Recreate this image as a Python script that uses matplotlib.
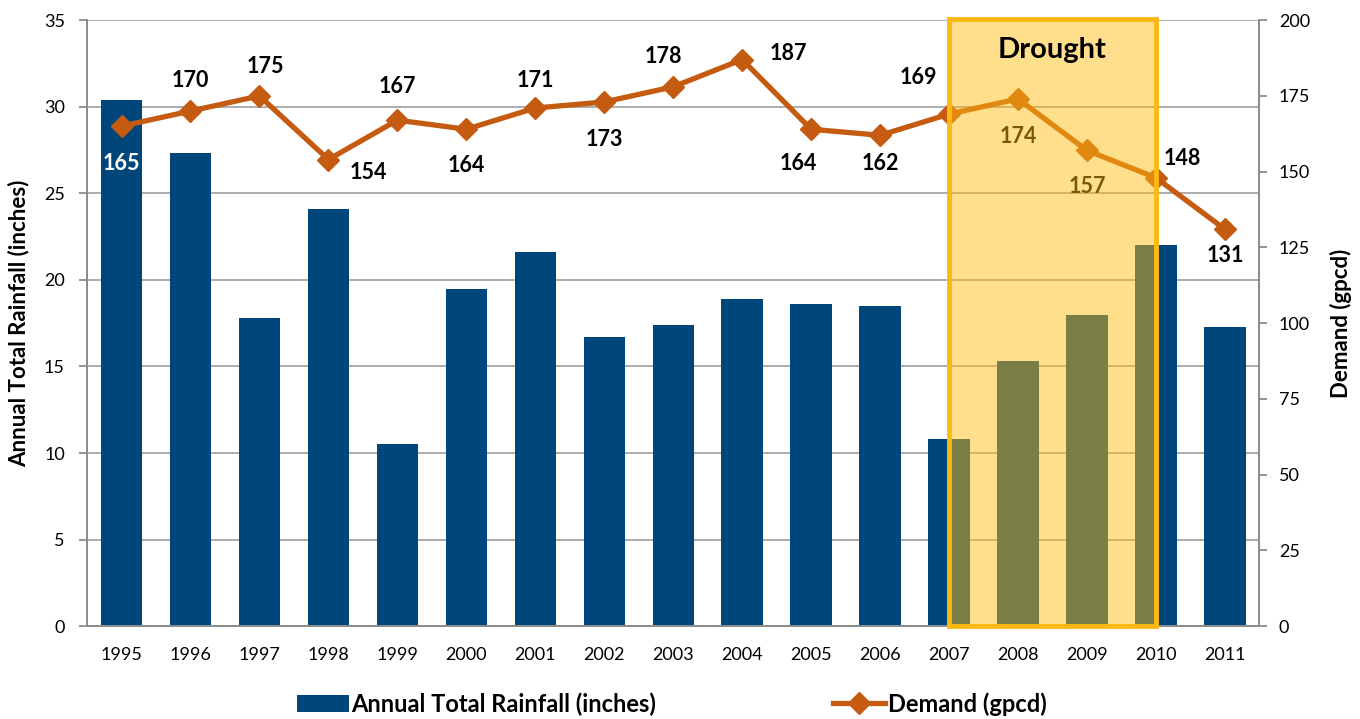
import numpy as np
import matplotlib.pyplot as plt
from matplotlib.patches import Rectangle
from matplotlib.lines import Line2D
from matplotlib.patches import Patch

plt.rcParams['font.family'] = ['Lato', 'DejaVu Sans']

# data
years = ['1995', '1996', '1997', '1998', '1999', '2000', '2001', '2002', '2003',
         '2004', '2005', '2006', '2007', '2008', '2009', '2010', '2011']
rainfall = [30.4, 27.3, 17.8, 24.1, 10.5, 19.5, 21.6, 16.7, 17.4,
            18.9, 18.6, 18.5, 10.8, 15.3, 18.0, 22.0, 17.3]
demand = [165, 170, 175, 154, 167, 164, 171, 173, 178,
          187, 164, 162, 169, 174, 157, 148, 131]
drought_start, drought_end = '2007', '2010'

# label offsets (points) for the demand labels
offs = [(0, -27), (0, 22), (4, 21), (29, -9), (0, 24), (0, -26), (0, 20), (0, -27), (-7, 22),
        (33, 4), (-9, -25), (0, -20), (-22, 26), (0, -27), (0, -26), (19, 14), (0, -19)]

navy = '#00467A'
orange = '#C55A11'
grey = '#8C8C8C'

fig = plt.figure(figsize=(13.6, 7.19), dpi=100)
ax = fig.add_axes([0.064, 0.129, 0.862, 0.843])
ax2 = ax.twinx()

x = np.arange(len(years))
ax.bar(x, rainfall, width=0.6, color=navy, zorder=2)
ax.set_ylim(0, 35)
ax.set_yticks(np.arange(0, 36, 5))
ax.set_xlim(-0.5, len(years) - 0.5)
ax.set_xticks(x)
ax.set_xticklabels(years, fontsize=13)
ax.tick_params(axis='x', length=0, pad=15)
ax.tick_params(axis='y', labelsize=13, color=grey, length=6, width=1.3, pad=10)
ax.yaxis.grid(True, color='#A6A6A6', lw=1.3, zorder=0)
ax.set_axisbelow(True)
ax.set_ylabel('Annual Total Rainfall (inches)', fontsize=16, fontweight='bold', labelpad=10)

ax2.plot(x, demand, color=orange, lw=3.8, marker='D', ms=11, zorder=3)
ax2.set_ylim(0, 200)
ax2.set_yticks(np.arange(0, 201, 25))
ax2.tick_params(axis='y', labelsize=13, color=grey, length=6, width=1.3, pad=8)
ax2.set_ylabel('Demand (gpcd)', fontsize=16, fontweight='bold', rotation=90, labelpad=14)

for i, (v, o) in enumerate(zip(demand, offs)):
    c = 'white' if i == 0 else 'black'
    ax2.annotate(str(v), (x[i], v), xytext=o, textcoords='offset points',
                 ha='center', va='center', fontsize=15.5, fontweight='bold', color=c, zorder=4)

for a in (ax, ax2):
    for s in ('left', 'right', 'bottom'):
        a.spines[s].set_color(grey)
        a.spines[s].set_linewidth(1.3)
    a.spines['top'].set_visible(False)

# drought box
i0, i1 = years.index(drought_start), years.index(drought_end)
ax2.add_patch(Rectangle((x[i0], 0), x[i1] - x[i0], 200.5, facecolor='#FFBC0F', alpha=0.48,
                        edgecolor='none', zorder=5, clip_on=False))
ax2.add_patch(Rectangle((x[i0], 0), x[i1] - x[i0], 200.5, facecolor='none',
                        edgecolor='#FDB913', lw=3.5, zorder=6, clip_on=False))
ax2.text((x[i0] + x[i1]) / 2, 190, 'Drought', ha='center', va='center',
         fontsize=21, fontweight='bold', zorder=7)

handles = [Patch(facecolor=navy, label='Annual Total Rainfall (inches)'),
           Line2D([], [], color=orange, lw=3.8, marker='D', ms=11, label='Demand (gpcd)')]
fig.legend(handles=handles, loc='lower center', bbox_to_anchor=(0.494, -0.025), ncol=2,
           frameon=False, prop={'size': 17, 'weight': 'bold'}, handlelength=2.2,
           handletextpad=0.1, columnspacing=7.5)

fig.savefig('out.png', dpi=100)
